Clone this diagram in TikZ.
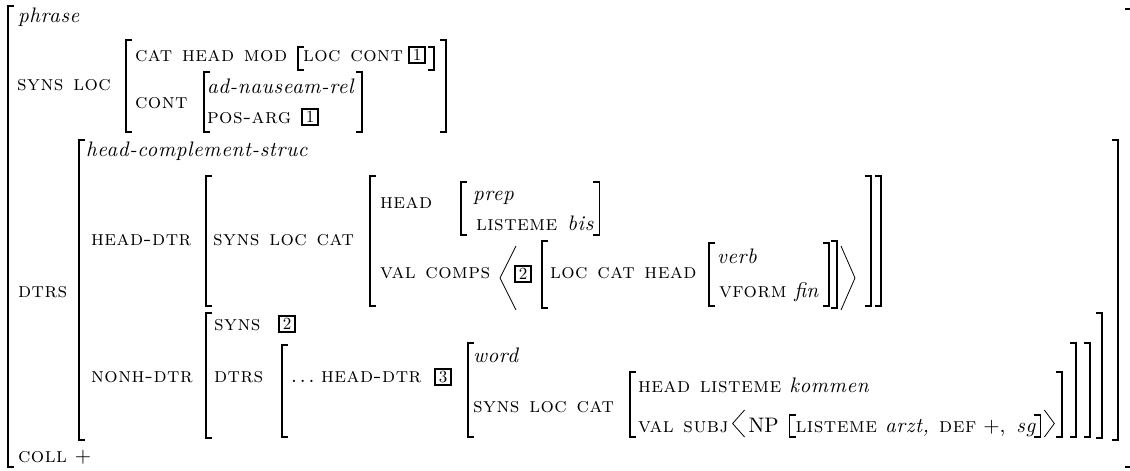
\documentclass[tikz,border=0pt]{standalone}
\usepackage{fontspec}
\newfontfamily\scfont{lmromancaps10-regular.otf}[LetterSpace=2.5,WordSpace=1.15]
\newfontfamily\itfont{lmroman10-italic.otf}[LetterSpace=3]
\newfontfamily\itplain{lmroman10-italic.otf}
\newfontfamily\rmfont{lmroman10-regular.otf}
\newcommand\mylb[3]{\draw[br] (#1+6,#2) -- (#1,#2) -- (#1,#3) -- (#1+6,#3);}
\newcommand\myrb[3]{\draw[br] (#1-6,#2) -- (#1,#2) -- (#1,#3) -- (#1-6,#3);}
\newcommand\mylang[4]{\draw[ang] (#2,#3) -- (#1,{(#3+#4)/2}) -- (#2,#4);}
\newcommand\myrang[4]{\draw[ang] (#1,#3) -- (#2,{(#3+#4)/2}) -- (#1,#4);}
\tikzset{
  sc/.style={anchor=base west, inner sep=0pt, outer sep=0pt, font=\fontsize{21}{24}\scfont},
  it/.style={anchor=base west, inner sep=0pt, outer sep=0pt, font=\fontsize{21}{24}\itfont},
  itp/.style={anchor=base west, inner sep=0pt, outer sep=0pt, font=\fontsize{21}{24}\itplain},
  rm/.style={anchor=base west, inner sep=0pt, outer sep=0pt, font=\fontsize{21}{24}\rmfont},
  tag/.style={draw, line width=1.8pt, minimum width=16pt, minimum height=16pt, inner sep=0pt, font=\fontsize{17}{17}\rmfont},
  br/.style={line width=1.3pt},
  ang/.style={line width=0.8pt}
}
\begin{document}
\begin{tikzpicture}[x=1pt,y=-1pt]
\useasboundingbox[fill=white] (0,0) rectangle (1130,471);
% outer matrix
\mylb{8}{6}{467}
\draw[br] (1125,9) -- (1133,9) -- (1133,467) -- (1125,467);
\node[it] (phrase) at (18,23) {phrase};
\node[sc] (synsloc) at (17,90) {syns loc};
% SYNS LOC value
\mylb{126}{40}{132}
\myrb{446}{40}{132}
\node[sc] (cathm) at (135,61) {cat head mod};
\mylb{298}{47}{70}
\node[sc] (loccont) at (303,61) {loc cont};
\node[tag] (t1a) at (417,55) {1};
\myrb{434}{47}{70}
\node[sc] (cont) at (135,108) {cont};
\mylb{204}{72}{132}
\node[it] (adn) at (207,93) {ad-nauseam-rel};
\node[sc] (posarg) at (207,123) {pos-arg};
\node[tag] (t1b) at (310,117) {1};
\myrb{362}{72}{132}
% DTRS
\node[sc] (dtrs) at (18,297) {dtrs};
\mylb{79}{140}{440}
\myrb{1118}{140}{440}
\node[it] (hcs) at (86,156) {head-complement-struc};
\node[sc] (hdtr) at (91,245) {head-dtr};
\mylb{206}{176}{306}
\node[sc] (slc1) at (213,245) {syns loc cat};
\mylb{370}{176}{306}
\node[sc] (head1) at (380,208) {head};
\mylb{461}{182}{235}
\node[it] (prep) at (473,200) {prep};
\node[sc] (lis1) at (476,230) {listeme};
\node[it] (bis) at ([xshift=10pt]lis1.base east) {bis};
\coordinate (bisr) at ([xshift=6pt]bis.base east);
\draw[br] ([xshift=-6pt]bisr |- 0,182) -- (bisr |- 0,182) -- (bisr |- 0,235) -- ([xshift=-6pt]bisr |- 0,235);
\node[sc] (valc) at (380,278) {val comps};
\mylang{500}{516}{246}{310}
\node[tag] (t2a) at (523,274) {2};
\mylb{542}{241}{308}
\node[sc] (lch) at (550,278) {loc cat head};
\mylb{709}{243}{306}
\node[it] (verb) at (717,263) {verb};
\node[sc] (vform) at (719,297) {vform};
\node[itp] (fin) at ([xshift=8pt]vform.base east) {fin};
\myrb{829}{243}{306}
\myrb{837}{241}{308}
\myrang{841}{855}{246}{310}
\myrb{871}{176}{306}
\myrb{881}{176}{306}
% NONH-DTR
\node[sc] (ndtr) at (91,382) {nonh-dtr};
\mylb{206}{313}{438}
\node[sc] (syns2) at (214,330) {syns};
\node[tag] (t2b) at (287,324) {2};
\node[sc] (dtrs2) at (214,382) {dtrs};
\mylb{282}{345}{437}
\node[rm] (dots) at (291,382) {.\kern3pt.\kern3pt.};
\node[sc] (hdtr2) at (321,382) {head-dtr};
\node[tag] (t3) at (443,377) {3};
\mylb{468}{343}{437}
\node[it] (word) at (473,362) {word};
\node[sc] (slc2) at (473,412) {syns loc cat};
\mylb{630}{372}{437}
\node[sc] (hl) at (638,392) {head listeme};
\node[it] (kommen) at ([xshift=8pt]hl.base east) {kommen};
\node[sc] (vals) at (638,432) {val subj};
\coordinate (va) at ([xshift=4pt]vals.base east);
\draw[ang] ([xshift=12pt]va |- 0,410) -- (va |- 0,423.5) -- ([xshift=12pt]va |- 0,437);
\node[rm] (np) at ([xshift=16pt]va) {NP};
\coordinate (lb) at ([xshift=11pt]np.base east);
\draw[br] ([xshift=6pt]lb |- 0,415) -- (lb |- 0,415) -- (lb |- 0,437) -- ([xshift=6pt]lb |- 0,437);
\node[sc] (lis2) at ([xshift=6pt]lb) {listeme};
\node[it] (arzt) at ([xshift=8pt]lis2.base east) {arzt,};
\node[sc] (def) at ([xshift=10pt]arzt.base east) {def};
\node[rm] (plus1) at ([xshift=7pt]def.base east) {+,};
\node[it] (sg) at ([xshift=11pt]plus1.base east) {sg};
\coordinate (rb) at ([xshift=5pt]sg.base east);
\draw[br] ([xshift=-6pt]rb |- 0,415) -- (rb |- 0,415) -- (rb |- 0,437) -- ([xshift=-6pt]rb |- 0,437);
\draw[ang] ([xshift=4pt]rb |- 0,410) -- ([xshift=14pt]rb |- 0,423.5) -- ([xshift=4pt]rb |- 0,437);
\myrb{1062}{372}{437}
\myrb{1076}{343}{437}
\myrb{1090}{343}{437}
\myrb{1102}{313}{438}
% COLL
\node[sc] (coll) at (18,462) {coll};
\node[rm] (plus2) at ([xshift=8pt]coll.base east) {+};
\end{tikzpicture}
\end{document}
